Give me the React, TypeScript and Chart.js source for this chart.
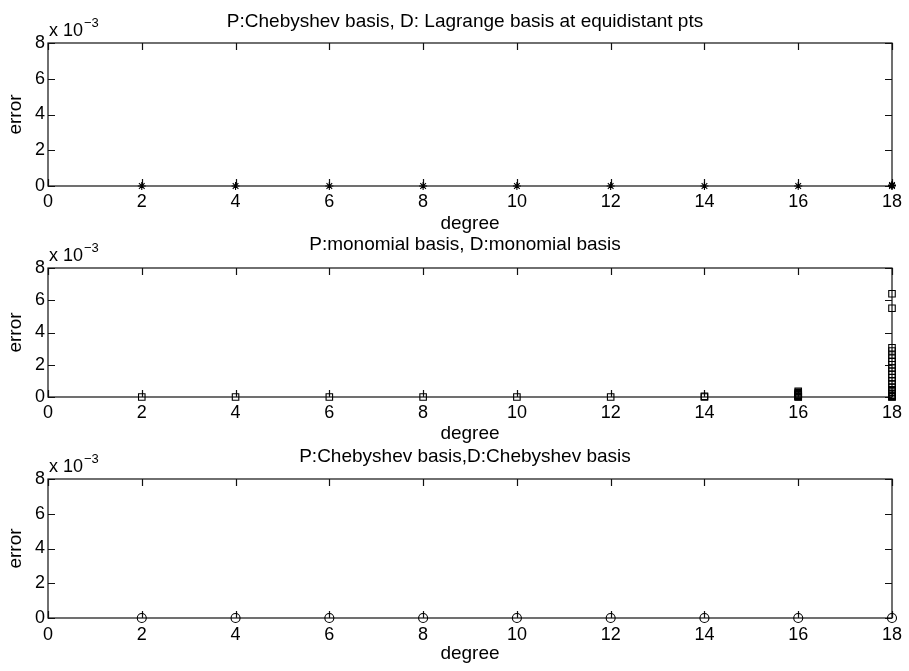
import React, { useEffect, useRef } from "react";
import { Chart, registerables } from "chart.js";

Chart.register(...registerables);

// ---------- data (errors in units of 1e-3) ----------
const xTickValues = [0, 2, 4, 6, 8, 10, 12, 14, 16, 18];
const yTickValues = [0, 2, 4, 6, 8];

const titles = [
  "P:Chebyshev basis, D: Lagrange basis at equidistant pts",
  "P:monomial basis, D:monomial basis",
  "P:Chebyshev basis,D:Chebyshev basis",
];
const xLabel = "degree";
const yLabel = "error";

// Panel 1: Chebyshev / Lagrange equidistant (stars)
const lagrangeDegree = [2, 4, 6, 8, 10, 12, 14, 16, 18, 18, 18];
const lagrangeError = [0, 0, 0, 0, 0, 0, 0, 0, 0, 0.03, 0.06];

// Panel 2: monomial / monomial (squares)
const monomialDegree = [
  2, 4, 6, 8, 10, 12, 14, 14,
  16, 16, 16, 16, 16, 16, 16, 16,
  18, 18, 18, 18, 18, 18, 18, 18, 18, 18, 18, 18, 18, 18, 18, 18, 18, 18, 18, 18, 18, 18,
];
const monomialError = [
  0, 0, 0, 0, 0, 0, 0, 0.05,
  0, 0.02, 0.05, 0.1, 0.15, 0.2, 0.27, 0.35,
  6.4, 5.5, 3.05, 2.85, 2.6, 2.4, 2.2, 2.0, 1.8, 1.6, 1.4, 1.2, 1.0, 0.8, 0.6, 0.45, 0.3, 0.2, 0.1, 0.05, 0.02, 0,
];

// Panel 3: Chebyshev / Chebyshev (circles)
const chebyshevDegree = [2, 4, 6, 8, 10, 12, 14, 16, 18];
const chebyshevError = [0, 0, 0, 0, 0, 0, 0, 0, 0];

// ---------- layout / style ----------
const FONT = "'Liberation Sans', Arial, Helvetica, sans-serif";
const W = 909;

type PanelLayout = {
  top: number;
  height: number;
  areaTop: number;
  xHeight: number;
  tickPad: number;
  xTitlePad: number;
  titleBaseline: number;
};

const layouts: PanelLayout[] = [
  { top: 0, height: 236, areaTop: 43, xHeight: 50, tickPad: 5.6, xTitlePad: 0.5, titleBaseline: 27 },
  { top: 236, height: 211, areaTop: 32, xHeight: 50, tickPad: 5.6, xTitlePad: 1.5, titleBaseline: 14 },
  { top: 447, height: 224, areaTop: 32, xHeight: 53, tickPad: 6.6, xTitlePad: 5.5, titleBaseline: 15 },
];

const panelData = [
  { xs: lagrangeDegree, ys: lagrangeError, style: "star", radius: 4 },
  { xs: monomialDegree, ys: monomialError, style: "rect", radius: 4.6 },
  { xs: chebyshevDegree, ys: chebyshevError, style: "circle", radius: 4.5 },
];

const framePlugin = {
  id: "matlabFrame",
  beforeDatasetsDraw(chart: any, _args: any, opts: any) {
    const { ctx, chartArea, scales } = chart;
    const { left, right, top, bottom } = chartArea;
    const xs = scales.x;
    const ys = scales.y;
    ctx.save();
    ctx.strokeStyle = "#111";
    ctx.lineWidth = 1.2;
    ctx.strokeRect(left, top, right - left, bottom - top);
    const tl = 7;
    ctx.beginPath();
    xs.ticks.forEach((t: any) => {
      const px = Math.round(xs.getPixelForValue(t.value)) + 0.5;
      ctx.moveTo(px, bottom);
      ctx.lineTo(px, bottom - tl);
      ctx.moveTo(px, top);
      ctx.lineTo(px, top + tl);
    });
    ys.ticks.forEach((t: any) => {
      const py = Math.round(ys.getPixelForValue(t.value)) + 0.5;
      ctx.moveTo(left, py);
      ctx.lineTo(left + tl, py);
      ctx.moveTo(right, py);
      ctx.lineTo(right - tl, py);
    });
    ctx.stroke();

    // title
    ctx.fillStyle = "#000";
    ctx.font = `19px ${FONT}`;
    ctx.textAlign = "center";
    ctx.textBaseline = "alphabetic";
    ctx.fillText(opts.title, 465, opts.titleBaseline);

    // exponent label
    ctx.textAlign = "left";
    ctx.font = `18px ${FONT}`;
    const base = top - 7;
    ctx.fillText("x 10", left + 1, base);
    const w = ctx.measureText("x 10").width;
    ctx.font = `13px ${FONT}`;
    ctx.fillText("\u22123", left + 2 + w, base - 9);
    ctx.restore();
  },
};

function Panel({ index }: { index: number }) {
  const ref = useRef<HTMLCanvasElement | null>(null);
  const lay = layouts[index];
  useEffect(() => {
    if (!ref.current) return;
    const d = panelData[index];
    const points = d.xs.map((x, i) => ({ x, y: d.ys[i] }));
    const chart = new Chart(ref.current, {
      type: "scatter",
      data: {
        datasets: [
          {
            data: points,
            showLine: false,
            pointStyle: d.style as any,
            pointRadius: d.radius,
            pointBorderColor: "#000",
            pointBackgroundColor: "rgba(0,0,0,0)",
            pointBorderWidth: 1.1,
            clip: false as any,
          },
        ],
      },
      options: {
        responsive: false,
        animation: false,
        events: [],
        layout: { padding: { top: lay.areaTop, left: 0, right: W - 892, bottom: 0 } },
        plugins: {
          legend: { display: false },
          tooltip: { enabled: false },
          title: { display: false },
          matlabFrame: { title: titles[index], titleBaseline: lay.titleBaseline },
        } as any,
        scales: {
          x: {
            type: "linear",
            min: 0,
            max: 18,
            grid: { display: false, drawTicks: false },
            border: { display: false },
            afterBuildTicks: (s: any) => {
              s.ticks = xTickValues.map((v) => ({ value: v }));
            },
            afterFit: (s: any) => {
              s.height = lay.xHeight;
            },
            ticks: {
              autoSkip: false,
              maxRotation: 0,
              padding: lay.tickPad,
              color: "#000",
              font: { size: 18, family: FONT },
            },
            title: {
              display: true,
              text: xLabel,
              color: "#000",
              font: { size: 19, family: FONT },
              padding: { top: 0, bottom: lay.xTitlePad },
            },
          },
          y: {
            type: "linear",
            min: 0,
            max: 8,
            grid: { display: false, drawTicks: false },
            border: { display: false },
            afterBuildTicks: (s: any) => {
              s.ticks = yTickValues.map((v) => ({ value: v }));
            },
            afterFit: (s: any) => {
              s.width = 48;
            },
            ticks: {
              padding: 3,
              color: "#000",
              font: { size: 18, family: FONT },
            },
            title: {
              display: true,
              text: yLabel,
              color: "#000",
              font: { size: 19, family: FONT },
              padding: { top: 4.7, bottom: 0 },
            },
          },
        },
      },
      plugins: [framePlugin as any],
    });
    return () => chart.destroy();
  }, [index]);
  return (
    <canvas
      ref={ref}
      width={W}
      height={lay.height}
      style={{ position: "absolute", left: 0, top: lay.top, width: W, height: lay.height }}
    />
  );
}

export default function App() {
  return (
    <div
      style={{
        position: "fixed",
        left: 0,
        top: 0,
        width: W,
        height: 671,
        background: "#fff",
        overflow: "hidden",
      }}
    >
      <Panel index={0} />
      <Panel index={1} />
      <Panel index={2} />
    </div>
  );
}
